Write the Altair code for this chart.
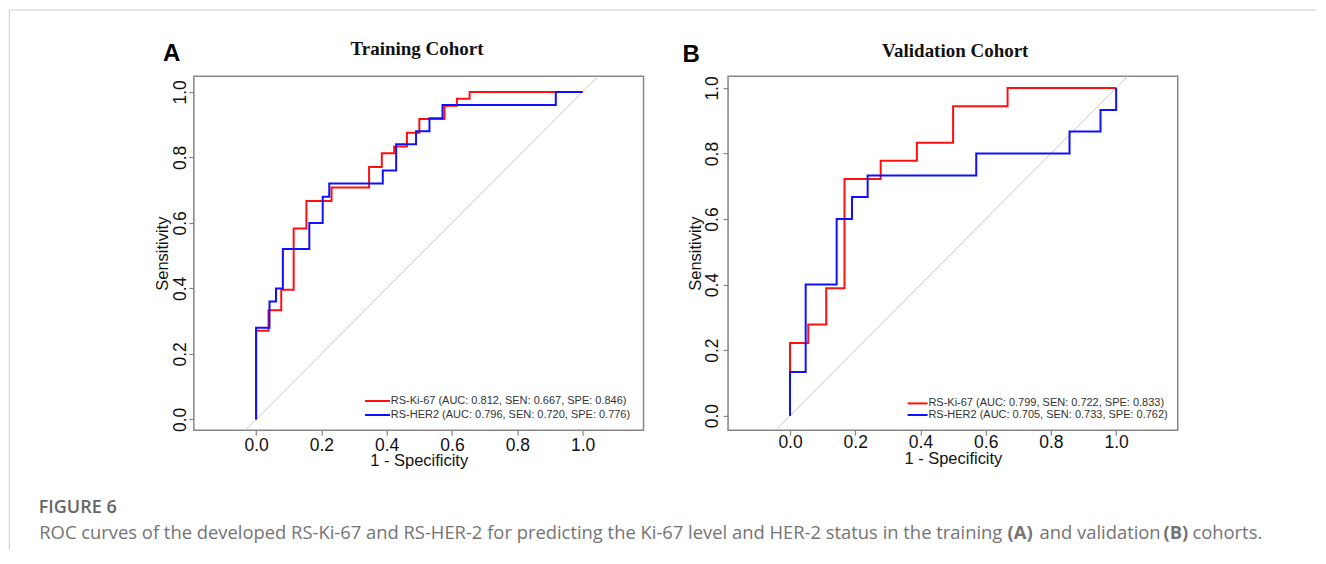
import altair as alt
import pandas as pd

# ---------------- data ----------------
TICKS = [0.0, 0.2, 0.4, 0.6, 0.8, 1.0]

train_ki67_fpr  = [0.0, 0.0, 0.038, 0.077, 0.115, 0.154, 0.231, 0.346, 0.385, 0.423, 0.462, 0.500, 0.577, 0.615, 0.654, 1.0]
train_ki67_sens = [0.0, 0.271, 0.333, 0.396, 0.583, 0.667, 0.708, 0.771, 0.813, 0.833, 0.875, 0.917, 0.958, 0.979, 1.0, 1.0]
train_her2_fpr  = [0.0, 0.0, 0.041, 0.061, 0.082, 0.163, 0.204, 0.224, 0.388, 0.429, 0.490, 0.531, 0.571, 0.918, 1.0]
train_her2_sens = [0.0, 0.28, 0.36, 0.40, 0.52, 0.60, 0.68, 0.72, 0.76, 0.84, 0.88, 0.92, 0.96, 1.0, 1.0]

valid_ki67_fpr  = [0.0, 0.0, 0.056, 0.111, 0.167, 0.278, 0.389, 0.500, 0.667, 1.0]
valid_ki67_sens = [0.0, 0.222, 0.278, 0.389, 0.722, 0.778, 0.833, 0.944, 1.0, 1.0]
valid_her2_fpr  = [0.0, 0.0, 0.048, 0.143, 0.190, 0.238, 0.571, 0.857, 0.952, 1.0]
valid_her2_sens = [0.0, 0.133, 0.40, 0.60, 0.667, 0.733, 0.80, 0.867, 0.933, 1.0]

diag = [-0.2, 1.3]

train_labels = ["RS-Ki-67 (AUC: 0.812, SEN: 0.667, SPE:  0.846)",
                "RS-HER2 (AUC: 0.796, SEN: 0.720, SPE: 0.776)"]
valid_labels = ["RS-Ki-67 (AUC: 0.799, SEN: 0.722, SPE:  0.833)",
                "RS-HER2 (AUC: 0.705, SEN: 0.733, SPE: 0.762)"]

caption_head = "FIGURE 6"
caption_parts = ["ROC curves of the developed RS-Ki-67 and RS-HER-2 for predicting the Ki-67 level and HER-2 status in the training",
                 "(A)", "and validation", "(B)", "cohorts."]

# ---------------- styles ----------------
RED = "#ff1010"
BLUE = "#1010ff"
BOX = "#858585"
SANS = "Liberation Sans"
SERIF = "Liberation Serif"
CAP_FONT = "Open Sans"
W = 450
H = 354.3

one = pd.DataFrame({"k": [0]})


def curve_df(fpr, sens):
    return pd.DataFrame({"fpr": fpr, "sens": sens, "i": list(range(len(fpr)))})


def text(s, x, y, size, font=SANS, weight="normal", color="#111", align="left", baseline="alphabetic"):
    return alt.Chart(one).mark_text(text=s, font=font, fontSize=size, fontWeight=weight, color=color,
                                    align=align, baseline=baseline).encode(x=alt.value(x), y=alt.value(y))


def hrule(x1, x2, y, color, width):
    return alt.Chart(one).mark_rule(color=color, strokeWidth=width).encode(
        x=alt.value(x1), x2=alt.value(x2), y=alt.value(y))


def vrule(x, y1, y2, color, width):
    return alt.Chart(one).mark_rule(color=color, strokeWidth=width).encode(
        x=alt.value(x), y=alt.value(y1), y2=alt.value(y2))


def panel(p):
    xs = alt.Scale(domain=p["xdom"], nice=False, zero=False)
    ys = alt.Scale(domain=p["ydom"], nice=False, zero=False)
    xax = alt.Axis(values=TICKS, format=".1f", title="1 - Specificity", grid=False, domain=False,
                   tickSize=5, tickColor=BOX, tickWidth=1.2, labelPadding=p["xlabpad"],
                   labelBaseline="alphabetic", labelFont=SANS, labelFontSize=17.5, labelColor="#111",
                   labelFlush=False, labelOverlap=False,
                   titleFont=SANS, titleFontSize=16.5, titleFontWeight="normal", titleColor="#111",
                   titleX=W / 2, titleY=p["xtitley"], titleBaseline="alphabetic", titleAlign="center")
    yax = alt.Axis(values=TICKS, format=".1f", title="Sensitivity", grid=False, domain=False,
                   tickSize=5, tickColor=BOX, tickWidth=1.2, labelPadding=p["ylabpad"],
                   labelAngle=270, labelAlign="center", labelBaseline="alphabetic",
                   labelFont=SANS, labelFontSize=17.5, labelColor="#111", labelFlush=False, labelOverlap=False,
                   titleFont=SANS, titleFontSize=16.5, titleFontWeight="normal", titleColor="#111",
                   titleAngle=270, titleX=p["ytitlex"], titleY=H / 2, titleAlign="center",
                   titleBaseline="alphabetic")

    def enc(ch):
        return ch.encode(x=alt.X("fpr:Q", scale=xs, axis=xax),
                         y=alt.Y("sens:Q", scale=ys, axis=yax),
                         order=alt.Order("i:Q"))

    diag_df = pd.DataFrame({"fpr": diag, "sens": diag, "i": [0, 1]})
    layers = [
        enc(alt.Chart(diag_df).mark_line(color="#c8c8c8", strokeWidth=1, clip=True)),
        enc(alt.Chart(curve_df(*p["ki67"])).mark_line(color=RED, strokeWidth=2, interpolate="step-after", clip=True)),
        enc(alt.Chart(curve_df(*p["her2"])).mark_line(color=BLUE, strokeWidth=2, interpolate="step-after", clip=True)),
    ]
    lx1, lx2 = p["legx"]
    for lab, col, ly in zip(p["labels"], [RED, BLUE], p["legy"]):
        layers.append(hrule(lx1, lx2, ly, col, 2))
        layers.append(text(lab, lx2 + 0.8, ly, 11, color="#333", baseline="middle"))
    layers.append(text(p["title"], p["titlex"], p["titley"], 19, font=SERIF, weight="bold", color="#111",
                       align="center"))
    layers.append(text(p["letter"], p["letterx"], p["lettery"], 24, weight="bold", color="#000"))
    layers += p.get("extra", [])
    return alt.layer(*layers).properties(width=W, height=H)


# caption and figure frame (placed in panel A's coordinate frame)
extra = [
    hrule(-184.7, 1123.3, -66.2, "#cccccc", 1),
    vrule(-184.7, -66.2, 473.8, "#cccccc", 1),
    text(caption_head, -155.2, 437.5, 18, font=CAP_FONT, weight=600, color="#666666"),
]
cap_x = [-154.7, 814.3, 846.3, 970.3, 999.3]
cap_w = ["normal", "bold", "normal", "bold", "normal"]
for s, x, w in zip(caption_parts, cap_x, cap_w):
    extra.append(text(s, x, 462.8, 18.4, font=CAP_FONT, weight=w, color="#747474"))

A = panel(dict(xdom=[-0.1907, 1.1867], ydom=[-0.033, 1.0482], ylabpad=3.2, ytitlex=-26.2,
               xlabpad=15.3, xtitley=35.5,
               ki67=(train_ki67_fpr, train_ki67_sens), her2=(train_her2_fpr, train_her2_sens),
               labels=train_labels, legx=(171.3, 196.3), legy=(325.1, 339.1),
               title="Training Cohort", titlex=223.3, titley=-20.9,
               letter="A", letterx=-31, lettery=-14.9, extra=extra))

B = panel(dict(xdom=[-0.19, 1.1887], ydom=[-0.0442, 1.036], ylabpad=5.6, ytitlex=-27.3,
               xlabpad=12.7, xtitley=33.2,
               ki67=(valid_ki67_fpr, valid_ki67_sens), her2=(valid_her2_fpr, valid_her2_sens),
               labels=valid_labels, legx=(179.7, 199.7), legy=(327.5, 339.1),
               title="Validation Cohort", titlex=227.4, titley=-19.2,
               letter="B", letterx=-45.5, lettery=-14.2))

chart = alt.hconcat(A, B, spacing=84.6, bounds="flush").properties(
    padding=0, background="white"
).configure_view(stroke=BOX, strokeWidth=1.5)

chart.save("out.html", embed_options={"renderer": "svg", "actions": False})
